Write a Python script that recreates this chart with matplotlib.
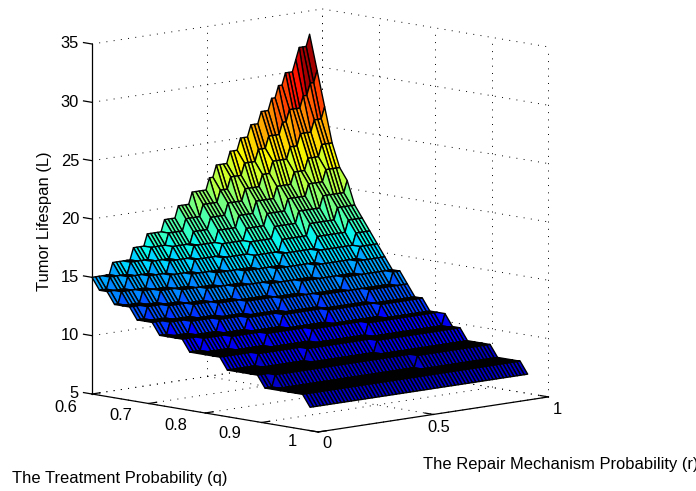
import numpy as np
import matplotlib
matplotlib.use("Agg")
import matplotlib.pyplot as plt
from mpl_toolkits.mplot3d import proj3d

plt.rcParams['font.family'] = ['Liberation Sans']

# Treatment probability of each mesh row (q)
q_rows = [0.6000, 0.6133, 0.6266, 0.6399, 0.6532, 0.6665, 0.6798, 0.6931, 0.7064, 0.7197,
          0.7330, 0.7463, 0.7596, 0.7729, 0.7862, 0.7995, 0.8128, 0.8261, 0.8394, 0.8527,
          0.8660, 0.8793, 0.8926, 0.9059, 0.9192, 0.9325, 0.9458, 0.9591, 0.9724, 0.9857]
# Tumor lifespan on that row at r = 0
start_level = [15, 14, 14, 13, 13, 13, 12, 12, 12, 11, 11, 11, 11, 10, 10,
               10, 10, 10, 9, 9, 9, 9, 9, 8, 8, 8, 8, 8, 8, 7]
# r values (thousandths) at which the lifespan on that row rises by one year
level_rises = [
    [90, 180, 240, 315, 375, 435, 510, 540, 600, 645, 690, 735, 780, 810, 840, 885, 900, 945],
    [45, 135, 225, 300, 375, 450, 525, 570, 630, 690, 735, 795, 825, 885, 915, 945],
    [90, 195, 285, 375, 450, 525, 600, 675, 720, 795, 840, 900, 945],
    [30, 150, 240, 345, 450, 540, 615, 705, 780, 840, 900],
    [90, 210, 315, 435, 540, 630, 720, 810, 885],
    [135, 270, 405, 525, 630, 735, 840, 945],
    [45, 195, 345, 510, 630, 750, 870],
    [105, 270, 435, 600, 750, 885],
    [180, 360, 540, 720, 885],
    [45, 255, 480, 675, 870],
    [105, 345, 585, 825],
    [195, 465, 735],
    [285, 600, 915],
    [60, 405, 780],
    [150, 570],
    [270, 765],
    [435],
    [645],
    [135, 945],
    [315],
    [585],
    [],
    [],
    [45],
    [630],
    [],
    [],
    [],
    [],
    [],
]
r_lines = [i * 15 for i in range(64)]  # repair probability of each mesh line, thousandths

z_ticks = [5, 10, 15, 20, 25, 30, 35]
q_ticks = [0.6, 0.7, 0.8, 0.9, 1]
r_ticks = [0, 0.5, 1]
z_labels = ['5', '10', '15', '20', '25', '30', '35']
q_labels = ['0.6', '0.7', '0.8', '0.9', '1']
r_labels = ['0', '0.5', '1']

r_arr = np.array(r_lines, dtype=float)
Z = np.array([[s + sum(b <= r for b in br) for r in r_lines]
              for s, br in zip(start_level, level_rises)], dtype=float)
Q, R = np.meshgrid(np.array(q_rows), r_arr / 1000, indexing='ij')

W, H = 696, 491
fig = plt.figure(figsize=(W / 100, H / 100), dpi=100)
ax = fig.add_axes([0.1, 0.1, 0.7, 0.7 * W / H], projection='3d', proj_type='ortho')
ax.set_box_aspect((328, 318, 354.6))
ax.view_init(elev=9.2, azim=-43.6)
ax.set_xlim(.6, 1)
ax.set_ylim(0, 1)
ax.set_zlim(5, 35)
ax.set_axis_off()
ax.computed_zorder = False


def px(x, y, z):
    a, b, _ = proj3d.proj_transform(x, y, z, ax.get_proj())
    return ax.transData.transform((a, b))


def setpos(S, l, b):
    ax.set_position([l / W, b / H, S / W, S / H])
    ax.apply_aspect()


S = 0.7 * W
setpos(S, 70, 50)
p0, p1 = px(.6, 0, 5), px(.6, 0, 35)
S2 = S * 350 / (p1[1] - p0[1])
setpos(S2, 70, 50)
p0 = px(.6, 0, 5)
setpos(S2, 70 + 92 - p0[0], 50 + (H - 394) - p0[1])

gs = dict(color='k', lw=.7, ls=(0, (1, 6.5)), zorder=1, clip_on=False)
for z in z_ticks:
    ax.plot([.6, .6], [0, 1], [z, z], **gs)
    ax.plot([.6, 1], [1, 1], [z, z], **gs)
for r in r_ticks:
    ax.plot([.6, .6], [r, r], [5, 35], **gs)
    ax.plot([.6, 1], [r, r], [5, 5], **gs)
for q in q_ticks:
    ax.plot([q, q], [1, 1], [5, 35], **gs)
    ax.plot([q, q], [0, 1], [5, 5], **gs)

cm = plt.get_cmap('jet', 64)
norm = plt.Normalize(7.5, 33)
fc = cm(np.clip(norm(Z), .065, 1))
ax.plot_surface(Q, R, Z, facecolors=fc, rstride=1, cstride=1,
                edgecolor='k', linewidth=1.0, shade=False, zorder=2)

ls = dict(color='k', lw=.9, zorder=3, clip_on=False)
ax.plot([.6, .6], [0, 0], [5, 35], **ls)
ax.plot([.6, 1], [0, 0], [5, 5], **ls)
ax.plot([1, 1], [0, 1], [5, 5], **ls)
for z in z_ticks:
    ax.plot([.6, .585], [0, 0], [z, z], **ls)
for q in q_ticks:
    ax.plot([q, q], [0, .035], [5, 5], **ls)
for r in r_ticks:
    ax.plot([1, .985], [r, r], [5, 5], **ls)


def T(x, y, s, **k):
    fig.text(x / W, 1 - y / H, s, fontsize=11.9, color='k', **k)


for s, y in zip(z_labels, [394, 336, 277.5, 219, 161, 102.5, 44]):
    T(79, y, s, ha='right', va='center')
for s, x, y in zip(q_labels, [66, 121, 176, 230, 292], [407, 416, 425, 434, 441]):
    T(x, y, s, ha='center', va='center')
for s, x, y in zip(r_labels, [327, 439, 557], [443, 427, 410]):
    T(x, y, s, ha='center', va='center')
T(12, 479, 'The Treatment Probability (q)', ha='left', va='center')
T(423, 465, 'The Repair Mechanism Probability (r)', ha='left', va='center')
T(44, 221, 'Tumor Lifespan (L)', ha='center', va='center', rotation=90)
fig.savefig('out.png', dpi=100)
